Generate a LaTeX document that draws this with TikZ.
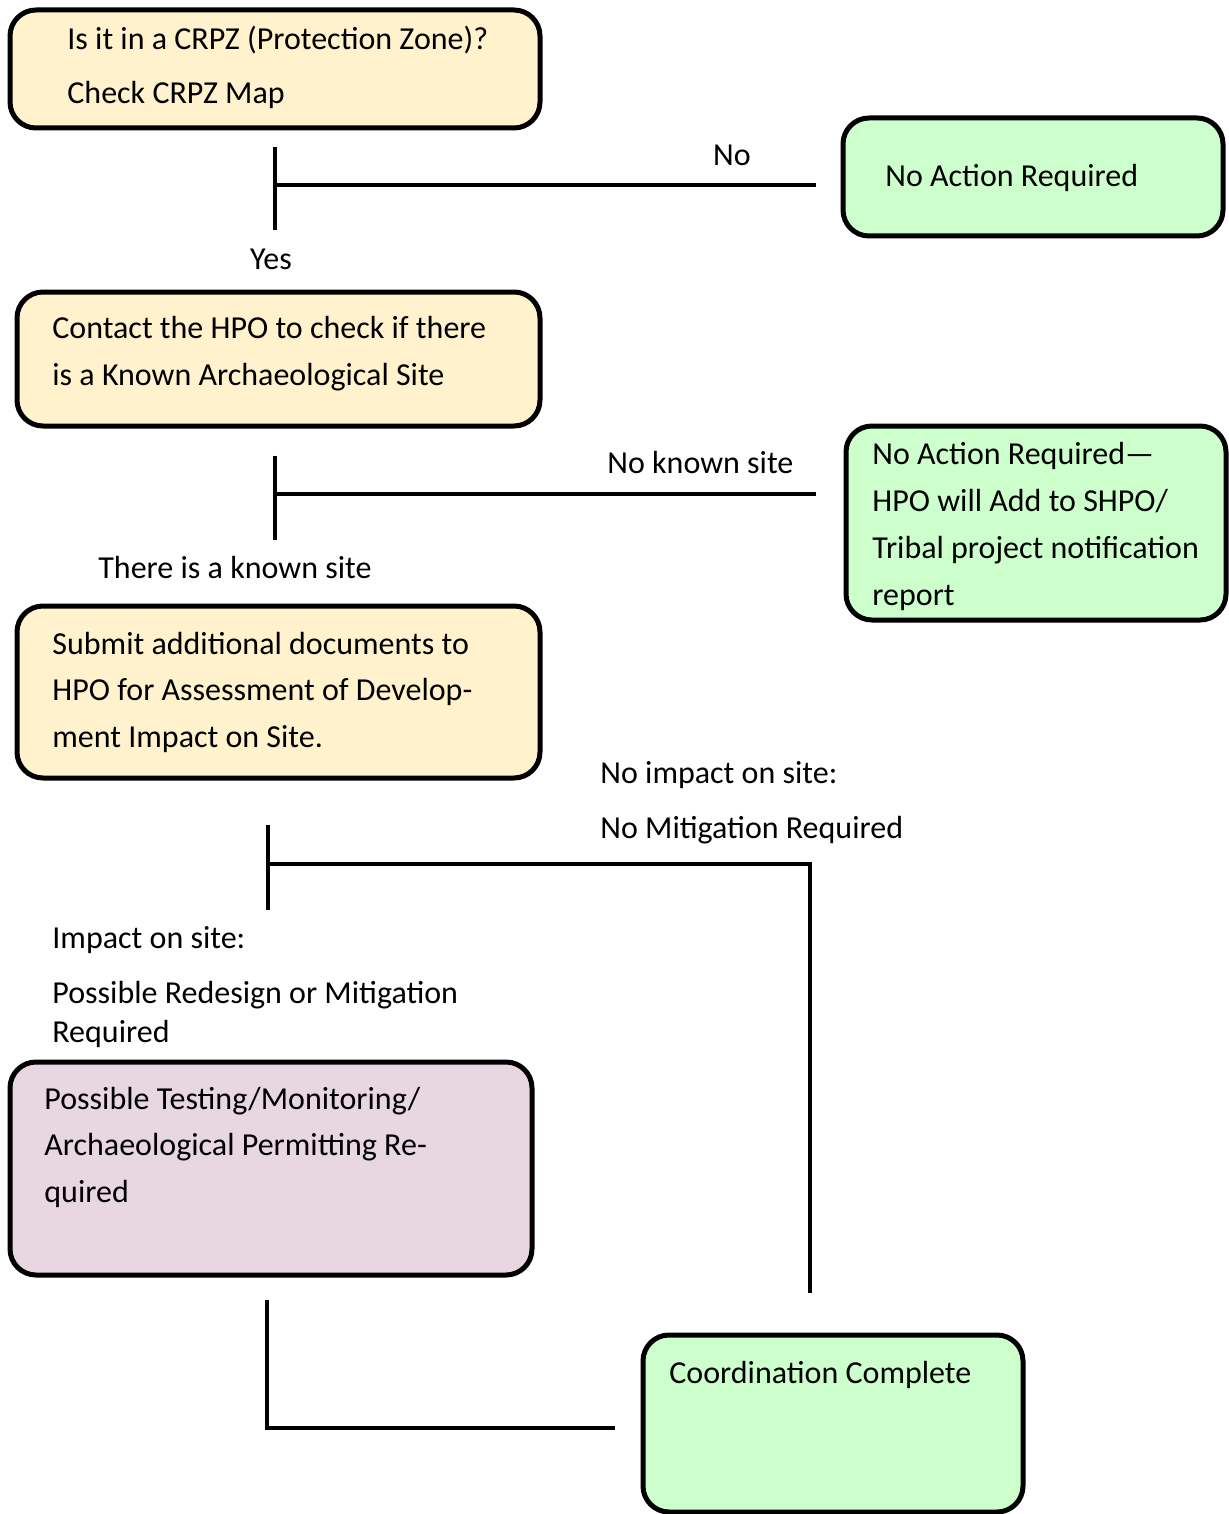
\documentclass[tikz,border=0pt]{standalone}
\usepackage{fontspec}
\setmainfont{Carlito}
\usetikzlibrary{fit}
\definecolor{paleyellow}{HTML}{FFF2CC}
\definecolor{palegreen}{HTML}{CCFFCC}
\definecolor{palemauve}{HTML}{E8D6E1}
\begin{document}
\begin{tikzpicture}[x=0.5pt,y=-0.5pt,
  box/.style={draw,line width=2.5pt,rounded corners=13pt,inner sep=0pt},
  yellow box/.style={box,fill=paleyellow},
  green box/.style={box,fill=palegreen},
  mauve box/.style={box,fill=palemauve},
  txt/.style={anchor=base west,inner sep=0pt,font=\fontsize{16}{19}\selectfont},
  decision/.style={txt,anchor=base},
  conn/.style={line width=2.4pt}]
  \useasboundingbox (0,0) rectangle (1228,1514);

  % boxes
  \node[yellow box,fit={(10,10) (540,128)}] (crpz) {};
  \node[green box,fit={(843,118) (1223,236)}] (noact) {};
  \node[yellow box,fit={(17,292) (540,426)}] (contact) {};
  \node[green box,fit={(846,426) (1226,620)}] (notify) {};
  \node[yellow box,fit={(17,606) (540,778)}] (submit) {};
  \node[mauve box,fit={(10,1062) (532,1275)}] (permit) {};
  \node[green box,fit={(643,1335) (1023,1512)}] (done) {};

  % box texts
  \node[txt] (crpz-1) at (67,50) {Is it in a CRPZ (Protection Zone)?};
  \node[txt] (crpz-2) at (67,104) {Check CRPZ Map};
  \node[txt] (noact-1) at (885,187) {No Action Required};
  \foreach \txt [count=\i] in {Contact the HPO to check if there,is a Known Archaeological Site}
    \node[txt] (contact-\i) at (52,{338+47*(\i-1)}) {\txt};
  \foreach \txt [count=\i] in {No Action Required---,HPO will Add to SHPO/,Tribal project notification,report}
    \node[txt] (notify-\i) at (872,{464+47*(\i-1)}) {\txt};
  \foreach \txt [count=\i] in {Submit additional documents to,HPO for Assessment of Develop-,ment Impact on Site.}
    \node[txt] (submit-\i) at (52,{654+46.5*(\i-1)}) {\txt};
  \foreach \txt [count=\i] in {Possible Testing/Monitoring/,Archaeological Permitting Re-,quired}
    \node[txt] (permit-\i) at (44,{1109+46.5*(\i-1)}) {\txt};
  \node[txt] (done-1) at (669,1383) {Coordination Complete};

  % branch labels
  \node[decision] (no) at (732,166) {No};
  \node[decision] (yes) at (271,270) {Yes};
  \node[txt] (noknown) at (607,473) {No known site};
  \node[txt] (known) at (98,578) {There is a known site};
  \node[txt] (noimpact-1) at (600,783) {No impact on site:};
  \node[txt] (noimpact-2) at (600,838) {No Mitigation Required};
  \node[txt] (impact-1) at (52,948) {Impact on site:};
  \node[txt] (impact-2) at (52,1003) {Possible Redesign or Mitigation};
  \node[txt] (impact-3) at (52,1042) {Required};

  % connectors
  \coordinate (j1) at (275,185);
  \coordinate (j1end) at (275,230);
  \draw[conn,shorten <=8.5pt] (crpz.south) -- (j1end);
  \draw[conn,shorten >=12.5pt] (j1) -- (j1 -| noact.west);

  \coordinate (j2) at (275,494);
  \coordinate (j2end) at (275,540);
  \draw[conn,shorten <=13.5pt] (contact.south -| j2) -- (j2end);
  \draw[conn,shorten >=14pt] (j2) -- (j2 -| notify.west);

  \coordinate (j3) at (268,864);
  \coordinate (j3end) at (268,910);
  \coordinate (c3) at (810,864);
  \draw[conn,shorten <=22pt] (submit.south -| j3) -- (j3end);
  \draw[conn,shorten >=20pt] (j3) -- (c3) -- (c3 |- done.north);

  \coordinate (c4) at (267,1428);
  \draw[conn,shorten <=11pt,shorten >=13pt] (permit.south -| c4) -- (c4) -- (c4 -| done.west);
\end{tikzpicture}
\end{document}
